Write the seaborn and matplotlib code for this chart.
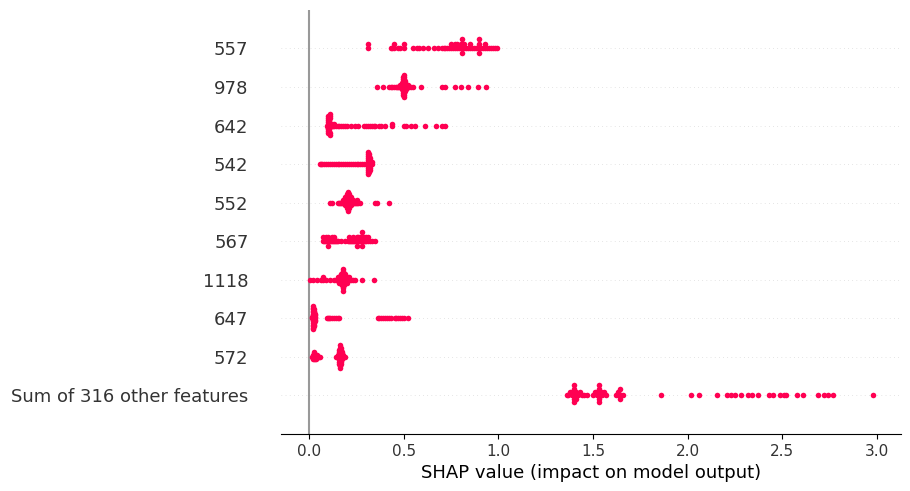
import matplotlib
matplotlib.use('Agg')
import matplotlib.pyplot as plt
import seaborn as sns
import numpy as np
import pandas as pd

# feature names, top to bottom
features = ['557', '978', '642', '542', '552', '567', '1118', '647', '572',
            'Sum of 316 other features']

# SHAP values per feature
shap_557 = [0.31, 0.31, 0.43, 0.44, 0.45, 0.45, 0.47, 0.48, 0.50, 0.50,
            0.55, 0.57, 0.58, 0.60, 0.63, 0.66, 0.68, 0.70, 0.71, 0.72,
            0.73, 0.74, 0.75, 0.75, 0.76, 0.77, 0.77, 0.78, 0.78, 0.79,
            0.80, 0.80, 0.81, 0.81, 0.81, 0.81, 0.82, 0.82, 0.83, 0.84,
            0.85, 0.85, 0.86, 0.87, 0.88, 0.89, 0.90, 0.90, 0.90, 0.90,
            0.91, 0.92, 0.93, 0.93, 0.94, 0.95, 0.96, 0.97, 0.98, 0.99]
shap_978 = [0.36, 0.39, 0.42, 0.43, 0.44, 0.45, 0.46, 0.465, 0.47, 0.475,
            0.48, 0.48, 0.485, 0.485, 0.49, 0.49, 0.49, 0.49, 0.495, 0.495,
            0.495, 0.495, 0.495, 0.495, 0.50, 0.50, 0.50, 0.50, 0.50, 0.50,
            0.50, 0.50, 0.50, 0.50, 0.50, 0.50, 0.505, 0.505, 0.505, 0.505,
            0.505, 0.505, 0.51, 0.51, 0.51, 0.515, 0.515, 0.52, 0.52, 0.53,
            0.54, 0.55, 0.59, 0.70, 0.72, 0.77, 0.80, 0.84, 0.89, 0.935]
shap_642 = [0.095, 0.10, 0.10, 0.10, 0.10, 0.10, 0.10, 0.10, 0.10, 0.10,
            0.10, 0.105, 0.105, 0.105, 0.105, 0.105, 0.105, 0.105, 0.11, 0.11,
            0.11, 0.11, 0.11, 0.115, 0.115, 0.12, 0.12, 0.125, 0.13, 0.13,
            0.14, 0.15, 0.16, 0.17, 0.18, 0.19, 0.20, 0.22, 0.24, 0.26,
            0.29, 0.30, 0.31, 0.32, 0.33, 0.34, 0.35, 0.37, 0.38, 0.40,
            0.44, 0.44, 0.50, 0.51, 0.54, 0.56, 0.61, 0.67, 0.70, 0.72]
shap_542 = [0.055, 0.06, 0.07, 0.08, 0.09, 0.10, 0.11, 0.12, 0.13, 0.14,
            0.15, 0.16, 0.17, 0.18, 0.19, 0.20, 0.21, 0.22, 0.23, 0.24,
            0.25, 0.26, 0.27, 0.28, 0.29, 0.30, 0.305, 0.31, 0.31, 0.31,
            0.31, 0.31, 0.31, 0.31, 0.31, 0.31, 0.31, 0.31, 0.31, 0.315,
            0.315, 0.315, 0.315, 0.315, 0.315, 0.315, 0.315, 0.315, 0.315, 0.32,
            0.32, 0.32, 0.32, 0.32, 0.32, 0.32, 0.325, 0.325, 0.33, 0.33]
shap_552 = [0.11, 0.12, 0.15, 0.16, 0.165, 0.17, 0.175, 0.18, 0.18, 0.185,
            0.185, 0.19, 0.19, 0.19, 0.195, 0.195, 0.195, 0.20, 0.20, 0.20,
            0.20, 0.20, 0.205, 0.205, 0.205, 0.205, 0.205, 0.205, 0.205, 0.21,
            0.21, 0.21, 0.21, 0.21, 0.215, 0.215, 0.215, 0.22, 0.22, 0.22,
            0.225, 0.225, 0.23, 0.23, 0.235, 0.24, 0.245, 0.25, 0.26, 0.27,
            0.35, 0.36, 0.42, 0.20, 0.205, 0.21, 0.19, 0.215, 0.22, 0.25]
shap_567 = [0.075, 0.075, 0.08, 0.085, 0.09, 0.09, 0.095, 0.10, 0.10, 0.10,
            0.105, 0.11, 0.115, 0.12, 0.12, 0.125, 0.13, 0.13, 0.135, 0.14,
            0.145, 0.15, 0.17, 0.19, 0.205, 0.21, 0.21, 0.215, 0.22, 0.225,
            0.23, 0.23, 0.235, 0.24, 0.245, 0.25, 0.25, 0.25, 0.255, 0.26,
            0.26, 0.265, 0.27, 0.27, 0.275, 0.28, 0.28, 0.28, 0.28, 0.285,
            0.29, 0.29, 0.295, 0.30, 0.30, 0.31, 0.31, 0.32, 0.33, 0.35]
shap_1118 = [0.005, 0.02, 0.04, 0.06, 0.075, 0.075, 0.09, 0.11, 0.13, 0.14,
             0.15, 0.15, 0.155, 0.16, 0.16, 0.165, 0.165, 0.17, 0.17, 0.17,
             0.175, 0.175, 0.175, 0.175, 0.18, 0.18, 0.18, 0.18, 0.18, 0.18,
             0.18, 0.18, 0.185, 0.185, 0.185, 0.185, 0.19, 0.19, 0.19, 0.195,
             0.195, 0.20, 0.20, 0.205, 0.21, 0.22, 0.23, 0.24, 0.28, 0.34,
             0.17, 0.175, 0.18, 0.185, 0.19, 0.16, 0.165, 0.20, 0.155, 0.21]
shap_647 = [0.015, 0.015, 0.02, 0.02, 0.02, 0.02, 0.02, 0.02, 0.02, 0.02,
            0.02, 0.02, 0.02, 0.02, 0.02, 0.02, 0.02, 0.02, 0.025, 0.025,
            0.025, 0.025, 0.025, 0.025, 0.025, 0.025, 0.025, 0.025, 0.025, 0.025,
            0.03, 0.03, 0.03, 0.03, 0.03, 0.03, 0.095, 0.10, 0.105, 0.11,
            0.12, 0.13, 0.14, 0.15, 0.16, 0.365, 0.37, 0.38, 0.39, 0.40,
            0.41, 0.42, 0.43, 0.455, 0.46, 0.47, 0.48, 0.49, 0.50, 0.52]
shap_572 = [0.015, 0.02, 0.02, 0.02, 0.025, 0.025, 0.025, 0.025, 0.03, 0.03,
            0.03, 0.035, 0.035, 0.035, 0.04, 0.04, 0.045, 0.05, 0.055, 0.14,
            0.145, 0.15, 0.15, 0.155, 0.155, 0.155, 0.16, 0.16, 0.16, 0.16,
            0.16, 0.16, 0.165, 0.165, 0.165, 0.165, 0.165, 0.165, 0.165, 0.165,
            0.165, 0.165, 0.165, 0.17, 0.17, 0.17, 0.17, 0.17, 0.17, 0.17,
            0.175, 0.175, 0.175, 0.175, 0.18, 0.18, 0.185, 0.19, 0.16, 0.17]
shap_rest = [1.36, 1.37, 1.38, 1.39, 1.39, 1.40, 1.40, 1.40, 1.40, 1.405,
             1.41, 1.41, 1.42, 1.43, 1.44, 1.45, 1.47, 1.50, 1.51, 1.52,
             1.52, 1.53, 1.53, 1.53, 1.53, 1.54, 1.54, 1.55, 1.56, 1.57,
             1.62, 1.63, 1.63, 1.64, 1.64, 1.65, 1.66, 1.86, 2.02, 2.06,
             2.155, 2.21, 2.23, 2.25, 2.28, 2.32, 2.34, 2.37, 2.43, 2.45,
             2.49, 2.51, 2.52, 2.58, 2.61, 2.69, 2.72, 2.74, 2.77, 2.98]

all_values = [shap_557, shap_978, shap_642, shap_542, shap_552, shap_567,
              shap_1118, shap_647, shap_572, shap_rest]


# beeswarm layout like shap: bin values, stack points in each bin
def swarm_offsets(vals, row_height=0.4, nbins=100):
    vals = np.asarray(vals, dtype=float)
    quant = np.round(nbins * (vals - vals.min()) / (vals.max() - vals.min() + 1e-8))
    order = np.argsort(quant, kind='stable')
    ys = np.zeros(len(vals))
    layer, last_bin = 0, -1
    for i in order:
        if quant[i] != last_bin:
            layer = 0
        ys[i] = np.ceil(layer / 2) * ((layer % 2) * 2 - 1)
        layer += 1
        last_bin = quant[i]
    ys *= 0.9 * (row_height / np.max(ys + 1))
    return ys


n = len(features)
frames = []
for i, vals in enumerate(all_values):
    pos = n - 1 - i
    frames.append(pd.DataFrame({'value': vals,
                                'y': pos + swarm_offsets(vals),
                                'feature': features[i]}))
df = pd.concat(frames, ignore_index=True)

fig = plt.figure(figsize=(9.1, 4.91), dpi=100)
ax = fig.add_axes([0.309, 0.116, 0.681, 0.864])

for pos in range(n):
    ax.axhline(pos, color='#cccccc', lw=0.5, dashes=(1, 5), zorder=-1)
ax.axvline(0, color='#999999', zorder=-1)

sns.scatterplot(data=df, x='value', y='y', color='#ff0052', s=16,
                linewidth=0, zorder=3, legend=False, ax=ax)

ax.set_yticks(range(n))
ax.set_yticklabels(features[::-1], fontsize=13, color='#333333')
ax.set_ylim(-1, n)
ax.set_xlim(-0.148, 3.127)
ax.set_ylabel('')
ax.set_xlabel('SHAP value (impact on model output)', fontsize=13)

for side in ['top', 'right', 'left']:
    ax.spines[side].set_visible(False)
ax.tick_params('y', length=20, width=0.5, color='none')
ax.tick_params('x', labelsize=11, labelcolor='#333333')

fig.savefig('out.png', dpi=100)
